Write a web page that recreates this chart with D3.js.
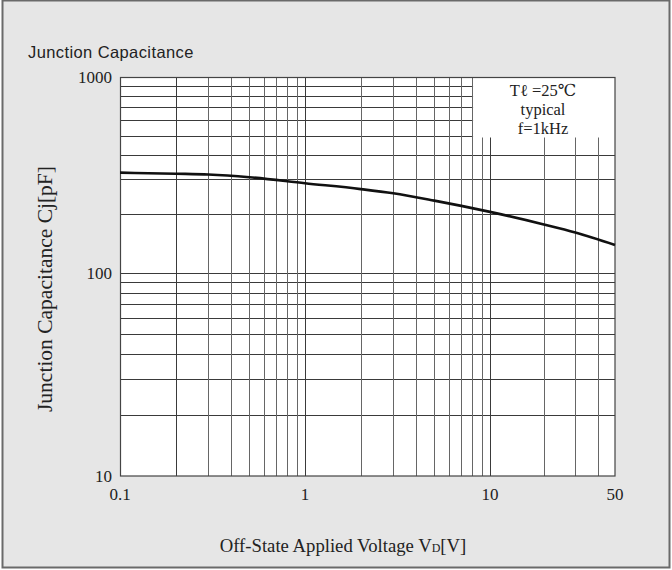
<!DOCTYPE html>
<html><head><meta charset="utf-8">
<script src="https://cdn.jsdelivr.net/npm/d3@7"></script>
<style>body{margin:0;background:#fff}svg text{fill:#222}</style>
</head><body>
<svg id="c" width="672" height="570"></svg>
<script>
const voltage = [0.1, 0.2, 0.3, 0.5, 1, 2, 3, 5, 7, 10, 20, 30, 50];
const capacitance = [325, 321, 318, 308, 287, 268, 255, 234, 220, 205, 177, 161, 139];
const xTickValues = [0.1, 1, 10, 50];
const xTickLabels = ["0.1", "1", "10", "50"];
const yTickValues = [10, 100, 1000];
const yTickLabels = ["10", "100", "1000"];
const xGrid = [0.2,0.3,0.4,0.5,0.6,0.7,0.8,0.9,1,2,3,4,5,6,7,8,9,10,20,30,40];
const yGrid = [20,30,40,50,60,70,80,90,100,200,300,400,500,600,700,800,900];
const legendLines = ["T\u2113 =25\u2103", "typical", "f=1kHz"];

const svg = d3.select("#c");
const serif = "'Liberation Serif','DejaVu Serif',serif";
svg.append("rect").attr("x",2.5).attr("y",0.5).attr("width",667).attr("height",567)
  .attr("fill","#e6e6e6").attr("stroke","#6a6a6a").attr("stroke-width",2);

const x = d3.scaleLog().domain([0.1,1,10,50]).range([120,305,490,615]);
const y = d3.scaleLog().domain([10,100,1000]).range([476,273,77]);

const g = svg.append("g");
g.append("rect").attr("x",120).attr("y",77).attr("width",495).attr("height",399).attr("fill","#fff");

g.selectAll(".hg").data(yGrid).join("line")
  .attr("x1",120).attr("x2",615).attr("y1",d=>Math.round(y(d))+0.5).attr("y2",d=>Math.round(y(d))+0.5)
  .attr("stroke","#3a3a3a").attr("stroke-width",1);
g.selectAll(".vg").data(xGrid).join("line")
  .attr("y1",77).attr("y2",476).attr("x1",d=>Math.round(x(d))+0.5).attr("x2",d=>Math.round(x(d))+0.5)
  .attr("stroke",d=>[1,10,0.2].includes(d)?"#3a3a3a":"#666").attr("stroke-width",1);

// legend box covering grid
g.append("rect").attr("x",x(8)+1).attr("y",77).attr("width",615-x(8)-1).attr("height",y(500)-77+1.5).attr("fill","#fff");

// frame
g.append("rect").attr("x",120.5).attr("y",77.5).attr("width",494.5).attr("height",398.5)
  .attr("fill","none").attr("stroke","#444").attr("stroke-width",1.2);

const line = d3.line().x((d,i)=>x(voltage[i])).y(d=>y(d)).curve(d3.curveMonotoneX);
g.append("path").attr("d",line(capacitance)).attr("fill","none").attr("stroke","#111").attr("stroke-width",2.6);

// axes labels
svg.selectAll(".xt").data(xTickValues).join("text")
  .attr("x",d=>x(d)).attr("y",500).attr("text-anchor","middle")
  .style("font-family",serif).style("font-size","17px").text((d,i)=>xTickLabels[i]);
svg.selectAll(".yt").data(yTickValues).join("text")
  .attr("x",112).attr("y",d=>y(d)+5.5).attr("text-anchor","end")
  .style("font-family",serif).style("font-size","17px").text((d,i)=>yTickLabels[i]);

svg.selectAll(".lg").data(legendLines).join("text")
  .attr("x",543).attr("y",(d,i)=>96+i*19).attr("text-anchor","middle")
  .style("font-family",serif).style("font-size","16.5px").text(d=>d);

svg.append("text").attr("x",28).attr("y",58)
  .style("font-family","'Liberation Sans',Arial,sans-serif").style("font-size","16.5px")
  .style("letter-spacing","0.4px").text("Junction Capacitance");

const xl = svg.append("text").attr("x",343).attr("y",552).attr("text-anchor","middle")
  .style("font-family",serif).style("font-size","18.7px");
xl.append("tspan").text("Off-State Applied Voltage V");
xl.append("tspan").style("font-size","12px").text("D");
xl.append("tspan").text("[V]");

svg.append("text").attr("transform","translate(52,289) rotate(-90)").attr("text-anchor","middle")
  .style("font-family",serif).style("font-size","21.5px").text("Junction Capacitance Cj[pF]");
</script>
</body></html>
